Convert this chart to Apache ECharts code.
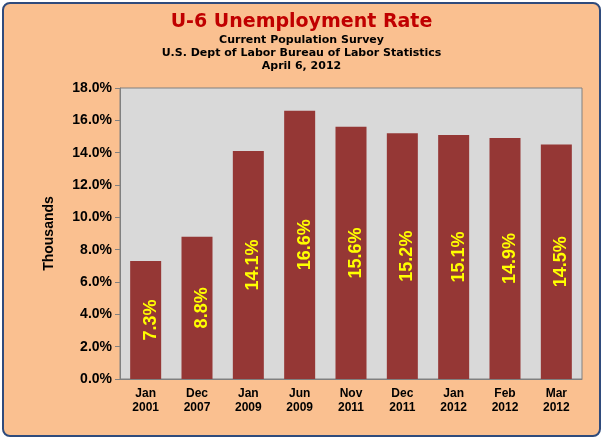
<!DOCTYPE html>
<html>
<head>
<meta charset="utf-8">
<script src="https://cdn.jsdelivr.net/npm/echarts@6/dist/echarts.min.js"></script>
<style>
html, body { margin: 0; padding: 0; background: #fff; }
#frame { position: absolute; left: 2px; top: 2px; width: 595px; height: 431px;
  border: 2px solid #2F4B7C; border-radius: 8px; background: #FAC090; overflow: hidden; }
#chart { width: 595px; height: 431px; }
</style>
</head>
<body>
<div id="frame"><div id="chart"></div></div>
<script>
// categories and values
var categories = ['Jan\n2001', 'Dec\n2007', 'Jan\n2009', 'Jun\n2009', 'Nov\n2011', 'Dec\n2011', 'Jan\n2012', 'Feb\n2012', 'Mar\n2012'];
var rates = [7.3, 8.8, 14.1, 16.6, 15.6, 15.2, 15.1, 14.9, 14.5];

var myChart = echarts.init(document.getElementById('chart'));

option = {
    backgroundColor: 'transparent',
    title: {
        text: 'U-6 Unemployment Rate',
        subtext: 'Current Population Survey\nU.S. Dept of Labor Bureau of Labor Statistics\nApril 6, 2012',
        left: 'center',
        top: 4,
        itemGap: 2,
        textStyle: { color: '#C00000', fontSize: 19, fontWeight: 'bold', fontFamily: 'Verdana, DejaVu Sans' },
        subtextStyle: { color: '#000', fontSize: 11, fontWeight: 'bold', lineHeight: 13, fontFamily: 'Verdana, DejaVu Sans' }
    },
    grid: { left: 116, right: 17, top: 84, bottom: 56, show: true, backgroundColor: '#D9D9D9', borderColor: '#808080', borderWidth: 1 },
    xAxis: {
        type: 'category',
        data: categories,
        axisTick: { show: false },
        axisLine: { lineStyle: { color: '#808080' } },
        axisLabel: { color: '#000', fontWeight: 'bold', fontSize: 12, lineHeight: 14, fontFamily: 'Arial, Liberation Sans', interval: 0 }
    },
    yAxis: {
        type: 'value',
        min: 0, max: 18, interval: 2,
        name: 'Thousands',
        nameLocation: 'middle',
        nameGap: 64,
        nameTextStyle: { color: '#000', fontWeight: 'bold', fontSize: 14, fontFamily: 'Arial, Liberation Sans' },
        splitLine: { show: false },
        axisLine: { show: true, lineStyle: { color: '#808080' } },
        axisTick: { show: true, lineStyle: { color: '#808080' } },
        axisLabel: { color: '#000', fontWeight: 'bold', fontSize: 14, fontFamily: 'Arial, Liberation Sans',
            formatter: function (v) { return v.toFixed(1) + '%'; } }
    },
    series: [
        {
            type: 'bar',
            data: rates,
            barWidth: 31,
            itemStyle: { color: '#953735' },
            label: {
                show: true,
                position: 'inside',
                offset: [0, 5],
                rotate: 90,
                color: '#FFFF00',
                fontWeight: 'bold',
                fontSize: 18,
                fontFamily: 'Arial, Liberation Sans',
                formatter: function (p) { return p.value.toFixed(1) + '%'; }
            }
        }
    ]
};

myChart.setOption(option);
</script>
</body>
</html>
